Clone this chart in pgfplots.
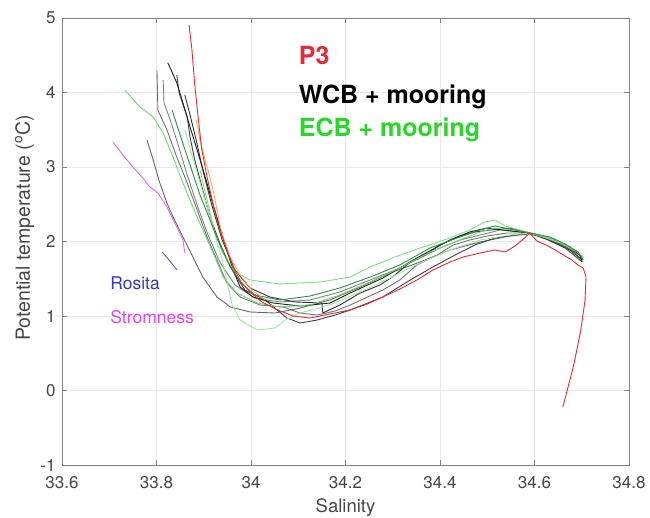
\documentclass[border=0pt]{standalone}
\usepackage{fontspec}
\setmainfont{TeX Gyre Heros}
\usepackage{pgfplots}
\pgfplotsset{compat=1.18}
\definecolor{gridc}{RGB}{232,232,232}
\definecolor{boxc}{RGB}{130,130,130}
\definecolor{tickc}{RGB}{70,70,70}
\definecolor{pthree}{RGB}{232,40,52}
\definecolor{orng}{RGB}{240,175,95}
\definecolor{gA}{RGB}{110,215,110}
\definecolor{gB}{RGB}{45,140,70}
\definecolor{gC}{RGB}{160,230,160}
\definecolor{gD}{RGB}{130,222,130}
\definecolor{ecbtxt}{RGB}{40,215,40}
\definecolor{strom}{RGB}{222,110,222}
\definecolor{stromtxt}{RGB}{225,70,225}
\definecolor{rosl}{RGB}{95,95,205}
\definecolor{rostxt}{RGB}{55,55,200}
\begin{document}
\begin{tikzpicture}
\begin{axis}[
  scale only axis, width=567bp, height=447bp,
  xmin=33.6, xmax=34.8, ymin=-1, ymax=5,
  xtick={33.6,33.8,34,34.2,34.4,34.6,34.8},
  ytick={-1,0,1,2,3,4,5},
  scaled ticks=false,
  grid=major, major grid style={gridc, line width=0.6bp},
  axis line style={boxc, line width=0.6bp},
  tick style={boxc, line width=0.6bp},
  tick align=inside, major tick length=5bp,
  xtick pos=both, ytick pos=both,
  /pgf/number format/assume math mode=true,
  ticklabel style={font=\fontsize{17bp}{20bp}\selectfont, text=tickc},
  yticklabel style={xshift=-3bp},
  xticklabel style={yshift=-8bp},
  xlabel={Salinity}, ylabel={Potential temperature (\textsuperscript{o}C)},
  xlabel style={font=\fontsize{18.5bp}{22bp}\selectfont, text=tickc, at={(axis description cs:0.5,0)}, anchor=center, yshift=-43bp},
  ylabel style={font=\fontsize{19.5bp}{22bp}\selectfont, text=tickc, at={(axis description cs:-0.066,0.53)}, anchor=center},
  no markers, every axis plot/.append style={line width=0.9bp, line join=round},
]
% WCB + mooring (black/gray)
\addplot[black!55] coordinates {(33.801,4.302)(33.803,3.765)(33.822,3.497)(33.843,3.134)(33.865,2.785)(33.886,2.423)(33.907,2.060)(33.928,1.752)(33.949,1.443)(33.977,1.255)(34.019,1.148)(34.068,1.121)(34.104,1.040)(34.140,1.013)(34.178,1.067)(34.210,1.148)(34.279,1.349)(34.315,1.483)(34.351,1.685)(34.394,1.819)(34.428,1.953)(34.463,2.020)(34.500,2.074)(34.542,2.114)(34.590,2.114)(34.633,2.047)(34.665,1.940)(34.692,1.832)(34.701,1.779)};
\addplot[black!50] coordinates {(33.814,4.168)(33.816,3.859)(33.829,3.631)(33.846,3.295)(33.865,2.893)(33.886,2.490)(33.909,2.087)(33.934,1.725)(33.966,1.416)(34.008,1.242)(34.061,1.188)(34.125,1.215)(34.188,1.322)(34.252,1.483)(34.315,1.644)(34.358,1.779)(34.400,1.913)(34.442,2.020)(34.485,2.087)(34.527,2.154)(34.569,2.128)(34.601,2.101)(34.643,2.020)(34.675,1.913)(34.701,1.792)};
\addplot[black!60] coordinates {(33.780,3.362)(33.793,3.094)(33.807,2.785)(33.822,2.517)(33.835,2.329)(33.856,2.060)(33.877,1.792)(33.898,1.523)(33.928,1.255)(33.956,1.121)(33.998,1.054)(34.051,1.040)(34.104,1.107)(34.167,1.215)(34.231,1.389)(34.294,1.577)(34.358,1.725)(34.421,1.886)(34.485,1.993)(34.548,2.074)(34.590,2.101)(34.633,2.034)(34.675,1.899)(34.701,1.752)};
\addplot[black!75] coordinates {(33.843,4.235)(33.848,3.993)(33.865,3.671)(33.871,3.403)(33.881,3.094)(33.898,2.691)(33.913,2.329)(33.934,1.980)(33.956,1.658)(33.987,1.349)(34.030,1.215)(34.076,0.973)(34.104,0.906)(34.140,0.946)(34.178,1.013)(34.210,1.081)(34.279,1.255)(34.337,1.483)(34.385,1.658)(34.432,1.819)(34.474,1.953)(34.516,2.047)(34.559,2.087)(34.590,2.114)(34.629,2.020)(34.665,1.913)(34.701,1.725)};
\addplot[black!80] coordinates {(33.860,3.966)(33.871,3.698)(33.884,3.362)(33.898,2.960)(33.917,2.490)(33.939,2.020)(33.966,1.617)(33.998,1.376)(34.040,1.255)(34.093,1.188)(34.150,1.174)(34.152,1.040)(34.188,1.148)(34.231,1.309)(34.273,1.416)(34.305,1.550)(34.337,1.725)(34.368,1.819)(34.400,1.953)(34.442,2.074)(34.474,2.128)(34.506,2.154)(34.548,2.181)(34.590,2.114)(34.633,2.020)(34.675,1.886)(34.701,1.752)};
\addplot[black!88] coordinates {(33.824,4.396)(33.833,4.275)(33.843,4.128)(33.856,3.859)(33.871,3.537)(33.886,3.228)(33.903,2.866)(33.917,2.557)(33.934,2.195)(33.949,1.886)(33.962,1.617)(33.977,1.389)(34.004,1.255)(34.047,1.174)(34.104,1.134)(34.167,1.174)(34.210,1.309)(34.279,1.510)(34.351,1.779)(34.421,2.020)(34.463,2.128)(34.500,2.181)(34.533,2.154)(34.590,2.114)(34.626,2.060)(34.654,1.993)(34.675,1.926)(34.696,1.819)(34.701,1.725)};
% ECB + mooring (greens)
\addplot[gC] coordinates {(33.860,3.497)(33.881,3.027)(33.903,2.557)(33.924,2.087)(33.939,1.752)(33.951,1.416)(33.960,1.148)(33.977,0.946)(34.013,0.812)(34.051,0.839)(34.072,0.946)(34.104,1.040)(34.167,1.148)(34.231,1.322)(34.294,1.510)(34.358,1.711)(34.421,1.886)(34.485,2.020)(34.548,2.087)(34.590,2.114)(34.643,2.020)(34.686,1.886)(34.703,1.779)};
\addplot[gD] coordinates {(33.892,2.960)(33.907,2.557)(33.922,2.154)(33.939,1.859)(33.966,1.591)(33.998,1.483)(34.061,1.430)(34.146,1.456)(34.210,1.523)(34.252,1.658)(34.305,1.792)(34.358,1.913)(34.421,2.047)(34.463,2.154)(34.495,2.262)(34.516,2.289)(34.538,2.208)(34.569,2.154)(34.601,2.101)(34.654,1.980)(34.692,1.859)(34.703,1.792)};
\addplot[gA] coordinates {(33.733,4.034)(33.765,3.805)(33.793,3.671)(33.814,3.456)(33.835,3.134)(33.856,2.785)(33.877,2.463)(33.898,2.154)(33.920,1.846)(33.941,1.523)(33.970,1.309)(34.013,1.174)(34.061,1.121)(34.125,1.148)(34.188,1.282)(34.252,1.456)(34.315,1.644)(34.379,1.859)(34.442,2.020)(34.485,2.128)(34.516,2.181)(34.559,2.154)(34.590,2.114)(34.633,2.047)(34.665,1.953)(34.692,1.859)(34.703,1.779)};
\addplot[gB] coordinates {(33.833,3.765)(33.850,3.430)(33.871,3.027)(33.892,2.624)(33.909,2.356)(33.930,2.020)(33.951,1.725)(33.977,1.456)(34.008,1.282)(34.061,1.215)(34.125,1.268)(34.188,1.376)(34.252,1.523)(34.315,1.685)(34.379,1.913)(34.442,2.060)(34.485,2.154)(34.516,2.208)(34.548,2.168)(34.590,2.114)(34.633,2.060)(34.665,1.966)(34.692,1.859)(34.703,1.752)};
% P3 (red) and orange
\addplot[orng] coordinates {(33.884,3.631)(33.892,3.362)(33.903,3.094)(33.913,2.866)(33.922,2.624)(33.928,2.423)(33.934,2.221)(33.941,2.060)(33.956,1.792)(33.977,1.550)(34.002,1.349)(34.030,1.215)};
\addplot[pthree] coordinates {(33.869,4.906)(33.875,4.570)(33.881,4.101)(33.888,3.671)(33.896,3.228)(33.907,2.866)(33.920,2.490)(33.934,2.154)(33.949,1.886)(33.962,1.658)(33.979,1.456)(33.998,1.322)(34.023,1.188)(34.057,1.081)(34.089,1.000)(34.125,0.973)(34.167,1.027)(34.210,1.081)(34.246,1.161)(34.279,1.255)(34.315,1.362)(34.351,1.483)(34.385,1.617)(34.421,1.725)(34.449,1.792)(34.485,1.846)(34.516,1.886)(34.538,1.859)(34.559,1.940)(34.574,2.020)(34.590,2.114)(34.605,2.007)(34.629,1.940)(34.654,1.846)(34.679,1.752)(34.692,1.685)(34.703,1.644)(34.709,1.523)(34.707,1.215)(34.698,0.812)(34.683,0.340)(34.660,-0.222)};
% Stromness and Rosita
\addplot[strom] coordinates {(33.708,3.336)(33.729,3.161)(33.750,3.000)(33.771,2.852)(33.786,2.732)(33.803,2.651)(33.822,2.463)(33.843,2.195)(33.856,2.020)(33.860,1.846)};
\addplot[rosl] coordinates {(33.812,1.86)(33.828,1.74)(33.843,1.62)};
\node[anchor=west, inner sep=0pt, text=pthree, font=\fontsize{25bp}{28bp}\selectfont\bfseries] at (axis cs:34.101,4.49) {P3};
\node[anchor=west, inner sep=0pt, text=black, font=\fontsize{25bp}{28bp}\selectfont\bfseries] at (axis cs:34.101,3.94) {WCB + mooring};
\node[anchor=west, inner sep=0pt, text=ecbtxt, font=\fontsize{25bp}{28bp}\selectfont\bfseries] at (axis cs:34.101,3.50) {ECB + mooring};
\node[anchor=west, inner sep=0pt, text=rostxt, font=\fontsize{17.5bp}{20bp}\selectfont] at (axis cs:33.702,1.44) {Rosita};
\node[anchor=west, inner sep=0pt, text=stromtxt, font=\fontsize{17.5bp}{20bp}\selectfont] at (axis cs:33.702,0.98) {Stromness};
\end{axis}
\pgfresetboundingbox
\path (-62bp,-53bp) rectangle (588bp,465bp);
\end{tikzpicture}
\end{document}
